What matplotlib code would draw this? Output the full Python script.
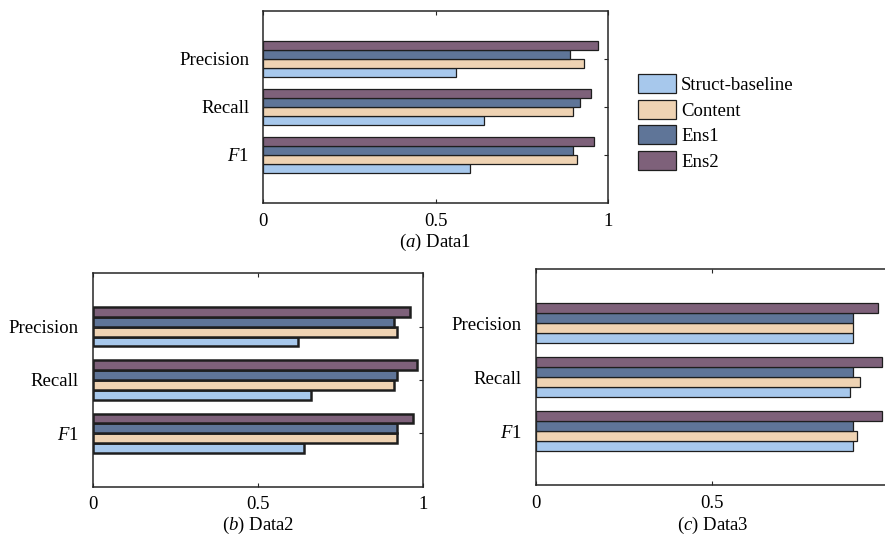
import matplotlib
matplotlib.use("Agg")
import matplotlib.pyplot as plt
import numpy as np

plt.rcParams['font.family'] = ['Liberation Serif', 'DejaVu Serif']
plt.rcParams['mathtext.fontset'] = 'custom'
plt.rcParams['mathtext.rm'] = 'Liberation Serif'
plt.rcParams['mathtext.it'] = 'Liberation Serif:italic'
plt.rcParams['font.size'] = 13.5

categories = ['Precision', 'Recall', '$F$1']
methods = ['Struct-baseline', 'Content', 'Ens1', 'Ens2']
colours = ['#a7c8ec', '#efd3b3', '#5f7598', '#7e617a']

# values per category: Precision, Recall, F1
data1_struct = [0.56, 0.64, 0.60]
data1_content = [0.93, 0.90, 0.91]
data1_ens1 = [0.89, 0.92, 0.90]
data1_ens2 = [0.97, 0.95, 0.96]

data2_struct = [0.62, 0.66, 0.64]
data2_content = [0.92, 0.91, 0.92]
data2_ens1 = [0.91, 0.92, 0.92]
data2_ens2 = [0.96, 0.98, 0.97]

data3_struct = [0.90, 0.89, 0.90]
data3_content = [0.90, 0.92, 0.91]
data3_ens1 = [0.90, 0.90, 0.90]
data3_ens2 = [0.97, 0.98, 0.98]

fig = plt.figure(figsize=(8.85, 5.34), dpi=100)

# the third panel runs past the right edge of the figure, as in the source
panels = [
    ([0.2972, 0.6199, 0.3898, 0.3596],
     [data1_struct, data1_content, data1_ens1, data1_ens2], '($a$) Data1', 0.9, 1.5,
     ['0', '0.5', '1']),
    ([0.1047, 0.0886, 0.3736, 0.3996],
     [data2_struct, data2_content, data2_ens1, data2_ens2], '($b$) Data2', 1.8, 0.8,
     ['0', '0.5', '1']),
    ([0.6056, 0.0918, 0.3985, 0.4039],
     [data3_struct, data3_content, data3_ens1, data3_ens2], '($c$) Data3', 0.9, 2.0,
     ['0', '0.5', '']),
]

ypos = np.array([3, 2, 1])
h = 0.185
for rect, series, caption, elw, lpad, xlabels in panels:
    ax = fig.add_axes(rect)
    for i, vals in enumerate(series):
        ax.barh(ypos + (i - 1.5) * h, vals, height=h, color=colours[i],
                edgecolor='#1e1e1e', linewidth=elw, label=methods[i])
    ax.set_xlim(0, 1)
    ax.set_ylim(0, 4)
    ax.set_yticks(ypos)
    ax.set_yticklabels(categories)
    ax.set_xticks([0, 0.5, 1])
    ax.set_xticklabels(xlabels)
    ax.tick_params(direction='in', length=3, width=0.8, top=True, right=True,
                   color='#262626')
    ax.tick_params(axis='y', pad=10)
    ax.tick_params(axis='x', pad=7)
    for s in ax.spines.values():
        s.set_linewidth(1.1)
        s.set_color('#262626')
    ax.set_xlabel(caption, labelpad=lpad)
    if caption.startswith('($a$)'):
        handles, labels = ax.get_legend_handles_labels()

fig.legend(handles, labels, loc='upper left',
           bbox_to_anchor=(638 / 885, 1 - 74 / 534), frameon=False,
           borderpad=0, borderaxespad=0, handlelength=2.05, handleheight=1.2,
           labelspacing=0.3, handletextpad=0.25, fontsize=13.5)

fig.savefig('out.png', dpi=100)
